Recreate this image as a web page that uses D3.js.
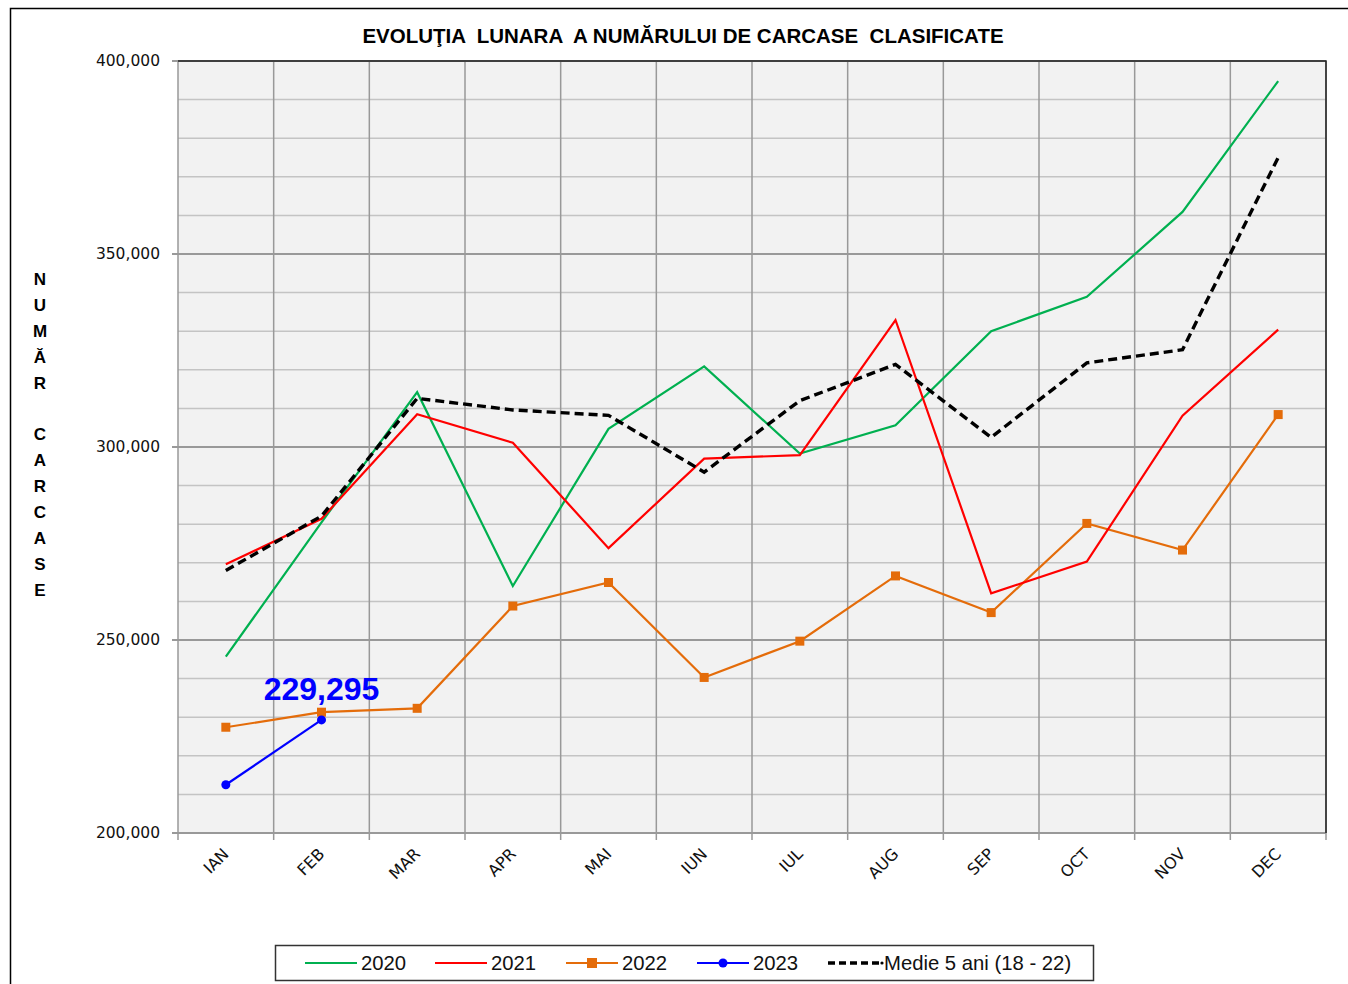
<!DOCTYPE html>
<html>
<head>
<meta charset="utf-8">
<script src="https://cdn.jsdelivr.net/npm/d3@7"></script>
<style>
  body { margin: 0; background: #fff; }
  text { font-family: "Liberation Sans", Arial, sans-serif; }
</style>
</head>
<body>
<div id="chart"></div>
<script>
// data
var months = ["IAN", "FEB", "MAR", "APR", "MAI", "IUN", "IUL", "AUG", "SEP", "OCT", "NOV", "DEC"];
var y2020 = [245700, 280500, 314200, 264000, 304700, 320900, 298300, 305600, 330000, 338900, 360900, 394800];
var y2021 = [269600, 281400, 308500, 301100, 273800, 297000, 297900, 332900, 262100, 270300, 308100, 330400];
var y2022 = [227400, 231300, 232300, 258800, 264900, 240300, 249700, 266600, 257100, 280200, 273300, 308400];
var y2023 = [212500, 229295];
var medie = [268000, 282100, 312600, 309600, 308200, 293500, 312000, 321400, 302500, 321800, 325200, 375000];
var yTicks = [200000, 250000, 300000, 350000, 400000];
var axisTitle = ["N", "U", "M", "Ă", "R", "", "C", "A", "R", "C", "A", "S", "E"];

var width = 1348, height = 984;
var margin = {top: 61, right: 22, bottom: 151, left: 178};

var svg = d3.select("#chart").append("svg")
    .attr("width", width)
    .attr("height", height);

// outer frame (right and bottom run off the picture)
svg.append("rect")
    .attr("x", 10.5).attr("y", 8.5)
    .attr("width", 1400).attr("height", 1100)
    .attr("fill", "none").attr("stroke", "#000").attr("stroke-width", 1.5);

var x = d3.scaleBand().domain(months).range([margin.left, width - margin.right]);
var y = d3.scaleLinear().domain([200000, 400000]).range([height - margin.bottom, margin.top]);

var g = svg.append("g");

g.append("rect")
    .attr("x", margin.left).attr("y", margin.top)
    .attr("width", x.range()[1] - margin.left)
    .attr("height", y(200000) - margin.top)
    .attr("fill", "#f2f2f2");

// minor horizontal grid every 10,000
g.selectAll(".minor").data(d3.range(210000, 400000, 10000).filter(function(v){ return v % 50000 != 0; }))
  .enter().append("line")
    .attr("x1", margin.left).attr("x2", x.range()[1])
    .attr("y1", function(d){ return y(d); }).attr("y2", function(d){ return y(d); })
    .attr("stroke", "#c4c4c4").attr("stroke-width", 1.5);

// vertical grid at category borders
var borders = months.map(function(m){ return x(m); }).concat([x.range()[1]]);
g.selectAll(".vgrid").data(borders).enter().append("line")
    .attr("x1", function(d){ return d; }).attr("x2", function(d){ return d; })
    .attr("y1", margin.top).attr("y2", y(200000) + 7)
    .attr("stroke", "#999").attr("stroke-width", 1.5);

// major horizontal grid
g.selectAll(".major").data(yTicks).enter().append("line")
    .attr("x1", margin.left - 6).attr("x2", x.range()[1])
    .attr("y1", function(d){ return y(d); }).attr("y2", function(d){ return y(d); })
    .attr("stroke", "#999").attr("stroke-width", 2);

// top and right border darker
g.append("path")
    .attr("d", "M" + margin.left + "," + margin.top + "H" + x.range()[1] + "V" + y(200000))
    .attr("fill", "none").attr("stroke", "#222").attr("stroke-width", 1.5);

// y tick labels
g.selectAll(".ylab").data(yTicks).enter().append("text")
    .attr("x", 160).attr("y", function(d){ return y(d) + 5; })
    .attr("text-anchor", "end")
    .style("font-family", "'DejaVu Sans', Tahoma, sans-serif")
    .style("font-size", "15.5px").attr("fill", "#111")
    .text(function(d){ return d3.format(",")(d); });

// x labels
g.selectAll(".xlab").data(months).enter().append("text")
    .attr("transform", function(d){ return "translate(" + (x(d) + x.bandwidth()/2 + 4) + "," + 855 + ") rotate(-45)"; })
    .attr("text-anchor", "end")
    .style("font-family", "'DejaVu Sans', Tahoma, sans-serif")
    .style("font-size", "16px").attr("fill", "#111")
    .text(function(d){ return d; });

// title
svg.append("text")
    .attr("x", 683).attr("y", 43)
    .attr("text-anchor", "middle")
    .attr("xml:space", "preserve")
    .style("white-space", "pre")
    .style("font-weight", "bold").style("font-size", "20.5px")
    .text("EVOLUŢIA  LUNARA  A NUMĂRULUI DE CARCASE  CLASIFICATE");

// vertical axis title
svg.selectAll(".ytitle").data(axisTitle).enter().append("text")
    .attr("x", 40).attr("y", function(d, i){ return 285 + i * 25.9; })
    .attr("text-anchor", "middle")
    .style("font-weight", "bold").style("font-size", "17px")
    .text(function(d){ return d; });

var cx = function(d, i){ return x(months[i]) + x.bandwidth()/2; };
var line = d3.line().x(cx).y(function(d){ return y(d); });

var series = [
  {name: "2020", data: y2020, color: "#00b050", width: 2.2},
  {name: "2021", data: y2021, color: "#ff0000", width: 2.2},
  {name: "2022", data: y2022, color: "#e46c0a", width: 2.2, marker: "square"},
  {name: "2023", data: y2023, color: "#0000ff", width: 2.2, marker: "circle"},
  {name: "Medie 5 ani (18 - 22)", data: medie, color: "#000", width: 3.4, dash: "9,5"}
];

[series[2], series[3], series[0], series[1], series[4]].forEach(function(s){
  g.append("path")
      .attr("d", line(s.data))
      .attr("fill", "none")
      .attr("stroke", s.color)
      .attr("stroke-width", s.width)
      .attr("stroke-dasharray", s.dash || null);
  if (s.marker == "square") {
    g.selectAll(null).data(s.data).enter().append("rect")
        .attr("x", function(d, i){ return cx(d, i) - 4.5; })
        .attr("y", function(d){ return y(d) - 4.5; })
        .attr("width", 9).attr("height", 9)
        .attr("fill", s.color);
  }
  if (s.marker == "circle") {
    g.selectAll(null).data(s.data).enter().append("circle")
        .attr("cx", cx).attr("cy", function(d){ return y(d); })
        .attr("r", 4.5).attr("fill", s.color);
  }
});

// label on last 2023 point
g.append("text")
    .attr("x", cx(y2023[1], 1)).attr("y", y(y2023[1]) - 20)
    .attr("text-anchor", "middle")
    .style("font-weight", "bold").style("font-size", "32px")
    .attr("fill", "#0000ff")
    .text(d3.format(",")(y2023[1]));

// legend
var legend = svg.append("g");
legend.append("rect")
    .attr("x", 275.5).attr("y", 945.5).attr("width", 818).attr("height", 35)
    .attr("fill", "#fff").attr("stroke", "#333").attr("stroke-width", 1.5);

var legX = [305, 435, 566, 697, 828];
series.forEach(function(s, i){
  var lx = legX[i], ly = 963;
  legend.append("line")
      .attr("x1", lx).attr("x2", lx + 52).attr("y1", ly).attr("y2", ly)
      .attr("stroke", s.color).attr("stroke-width", s.dash ? 3.4 : 2.2)
      .attr("stroke-dasharray", s.dash ? "7,4" : null);
  if (s.marker == "square") legend.append("rect").attr("x", lx + 21).attr("y", ly - 5).attr("width", 10).attr("height", 10).attr("fill", s.color);
  if (s.marker == "circle") legend.append("circle").attr("cx", lx + 26).attr("cy", ly).attr("r", 4.5).attr("fill", s.color);
  if (s.dash) legend.append("circle").attr("cx", lx + 54).attr("cy", ly).attr("r", 1.6).attr("fill", "#000");
  legend.append("text")
      .attr("x", lx + 56).attr("y", ly + 7)
      .style("font-size", "20.3px").attr("fill", "#111")
      .text(s.name);
});
</script>
</body>
</html>
